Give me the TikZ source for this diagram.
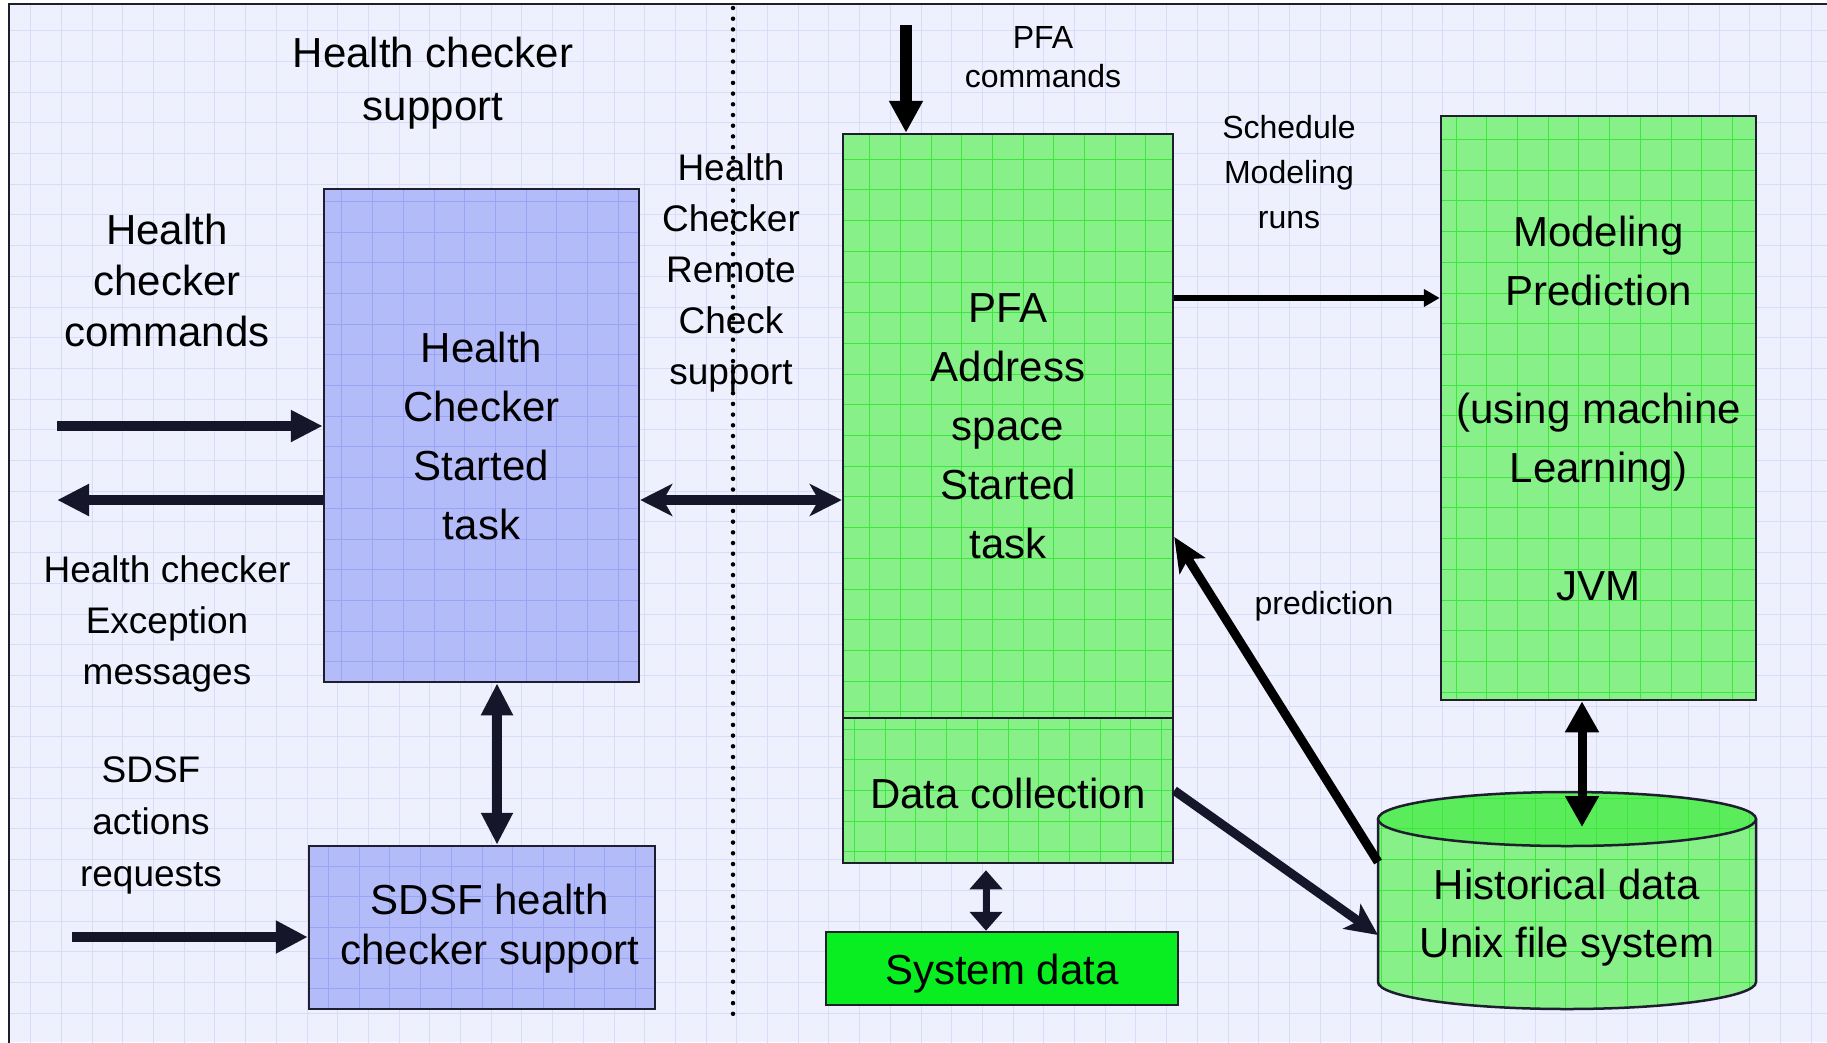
\documentclass[tikz,border=0pt]{standalone}
\usepackage{fontspec}
\setmainfont{Liberation Sans}
\usetikzlibrary{arrows.meta,calc}

\definecolor{bgc}{HTML}{EEF0FE}
\definecolor{bggrid}{HTML}{D7DCF7}
\definecolor{bluefill}{HTML}{B3BCF8}
\definecolor{bluegrid}{HTML}{98A4F4}
\definecolor{greenfill}{HTML}{88F088}
\definecolor{greengrid}{HTML}{3CE83C}
\definecolor{sysgreen}{HTML}{08EE20}
\definecolor{cyltop}{HTML}{5AEC5A}
\definecolor{navy}{HTML}{16162A}
\definecolor{edge}{HTML}{1E1E2E}

\begin{document}
\begin{tikzpicture}[x=1pt,y=-1pt,
  box/.style={draw=edge, line width=2.5pt, inner sep=0pt, align=center, text=black,
    font=\fontsize{42}{59}\selectfont},
  bluebox/.style={box, fill=bluefill, path picture={\draw[bluegrid,line width=0.9pt]
    (path picture bounding box.south west) grid[step=30.7pt] (path picture bounding box.north east);}},
  greenbox/.style={box, fill=greenfill, path picture={\draw[greengrid,line width=0.9pt]
    (path picture bounding box.south west) grid[step=30.7pt] (path picture bounding box.north east);}},
  lbl/.style={align=center, inner sep=0pt, text=black},
  big/.style={lbl, font=\fontsize{42}{51}\selectfont},
  mid/.style={lbl, font=\fontsize{37}{51}\selectfont},
  small/.style={lbl, font=\fontsize{32}{45}\selectfont},
  fatnavy/.style={draw=navy, line width=10pt},
]
\useasboundingbox (0,0) rectangle (1827,1042);
% background and frame
\fill[white] (0,0) rectangle (1827,1042);
\fill[bgc] (9,4) rectangle (1827,1042);
\begin{scope}
\clip (9,4) rectangle (1827,1042);
\draw[bggrid, line width=0.9pt] (0,0) grid[step=30.7pt] (1830,1045);
\end{scope}
\draw[edge, line width=2.5pt] (9,1050) -- (9,4) -- (1835,4);

% labels
\node[lbl, font=\fontsize{42}{53}\selectfont] (title) at (433,83) {Health checker\\support};
\node[big] (hccmd) at (167,280) {Health\\checker\\commands};
\node[mid] (hcexc) at (167,624) {Health checker\\Exception\\messages};
\node[lbl, font=\fontsize{37}{52}\selectfont] (sdsfact) at (151,825) {SDSF\\actions\\requests};
\node[mid] (remote) at (731,273) {Health\\Checker\\Remote\\Check\\support};
\node[lbl, font=\fontsize{32}{39}\selectfont] (pfacmdlbl) at (1043,57) {PFA\\commands};
\node[small] (sched) at (1289,172) {Schedule\\Modeling\\runs};
\node[small] (pred) at (1324,606) {prediction};

% boxes
\node[bluebox, minimum width=315pt, minimum height=493pt] (hc) at (481.5,435.5)
  {Health\\Checker\\Started\\task};
\node[bluebox, minimum width=346pt, minimum height=163pt] (sdsf) at (482,927.5) {};
\node[lbl, font=\fontsize{42}{50}\selectfont] (sdsftxt) at (490,929)
  {SDSF health\\checker support};
\node[greenbox, minimum width=330pt, minimum height=584pt] (pfa) at (1008,426)
  {PFA\\Address\\space\\Started\\task};
\node[greenbox, minimum width=330pt, minimum height=145pt] (dc) at (1008,790.5) {};
\node[lbl, font=\fontsize{42}{50}\selectfont] (dctxt) at (1008,793) {Data collection};
\node[box, fill=sysgreen, minimum width=352pt, minimum height=73pt] (sys) at (1002,968.5) {};
\node[lbl, font=\fontsize{42}{50}\selectfont] (systxt) at (1002,974) {System data};
\node[greenbox, minimum width=315pt, minimum height=584pt] (mod) at (1598.5,408)
  {Modeling\\Prediction\\\mbox{}\\(using machine\\Learning)\\\mbox{}\\JVM};

% cylinder
\begin{scope}
\clip (1378,819) -- (1378,982)
  .. controls (1378,996.9) and (1462.6,1009) .. (1567,1009)
  .. controls (1671.4,1009) and (1756,996.9) .. (1756,982)
  -- (1756,819) -- cycle;
\fill[greenfill] (1370,790) rectangle (1760,1012);
\draw[greengrid, line width=0.9pt] (1370,790) grid[step=30.7pt] (1760,1012);
\end{scope}
\draw[edge, line width=2.5pt] (1378,819) -- (1378,982)
  .. controls (1378,996.9) and (1462.6,1009) .. (1567,1009)
  .. controls (1671.4,1009) and (1756,996.9) .. (1756,982)
  -- (1756,819);
\begin{scope}
\clip (1567,819) ellipse [x radius=189pt, y radius=27pt];
\fill[cyltop] (1370,790) rectangle (1760,850);
\draw[greengrid, line width=0.9pt] (1370,790) grid[step=30.7pt] (1760,850);
\end{scope}
\draw[edge, line width=2.5pt] (1567,819) ellipse [x radius=189pt, y radius=27pt];
\node[lbl, font=\fontsize{42}{58}\selectfont] (hist) at (1567,918) {Historical data\\Unix file system};
\coordinate (cylA) at (1378,862);
\coordinate (cylB) at (1378,935);
\coordinate (cylT) at (1582,827);

% dotted divider
\coordinate (div1) at (733,8);
\coordinate (div2) at (733,1024);
\draw[black, line width=4.5pt, line cap=round, dash pattern=on 0pt off 10.7pt] (div1) -- (div2);

% connectors
\coordinate (pfacmd) at (906,25);
\draw[black, line width=12pt, -{Triangle[length=32pt,width=32pt]}] (pfacmd) -- (pfacmd |- pfa.north);

\coordinate (s1) at ([yshift=128pt]pfa.east);
\draw[black, line width=6pt, -{Triangle[length=16pt,width=17pt]}] (s1) -- (s1 -| mod.west);

\coordinate (hcin) at (57,426);
\draw[fatnavy, -{Triangle[length=32pt,width=30pt]}] (hcin) -- (hcin -| hc.west);
\coordinate (hcout) at (57,500);
\draw[fatnavy, {Triangle[length=32pt,width=30pt]}-] (hcout) -- (hcout -| hc.west);

\draw[fatnavy, {Stealth[length=32pt,width=32pt,inset=9pt]}-{Stealth[length=32pt,width=32pt,inset=9pt]}]
  (hcout -| hc.east) -- (hcout -| pfa.west);

\coordinate (v1) at (497,0);
\draw[fatnavy, {Triangle[length=32pt,width=30pt]}-{Triangle[length=32pt,width=30pt]}]
  (v1 |- hc.south) -- (v1 |- sdsf.north);

\coordinate (sin) at (72,937);
\draw[fatnavy, -{Triangle[length=32pt,width=31pt]}] (sin) -- (sin -| sdsf.west);

\coordinate (v2) at (986,0);
\draw[draw=navy, line width=7pt, {Triangle[length=19pt,width=32pt]}-{Triangle[length=19pt,width=32pt]},
  shorten <=6pt] (v2 |- dc.south) -- (v2 |- sys.north);

\draw[black, line width=9pt, {Triangle[length=31pt,width=32pt]}-{Triangle[length=31pt,width=32pt]}]
  (cylT |- mod.south) -- (cylT);

\draw[black, line width=9pt, -{Stealth[length=34pt,width=30pt,inset=8pt]}]
  (cylA) -- ([yshift=-111pt]pfa.east);

\draw[draw=navy, line width=9pt, -{Stealth[length=32pt,width=30pt,inset=8pt]}]
  (dc.east) -- (cylB);
\end{tikzpicture}
\end{document}
